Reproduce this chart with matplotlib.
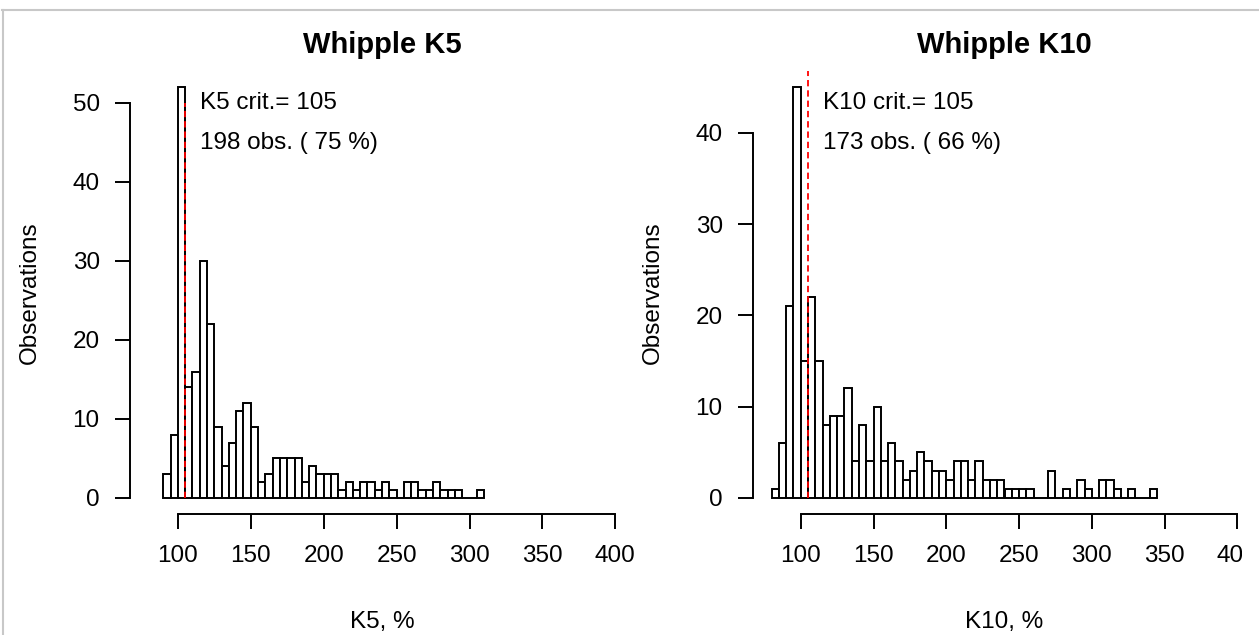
import matplotlib
matplotlib.use('Agg')
import matplotlib.pyplot as plt
from matplotlib.lines import Line2D
from matplotlib.transforms import blended_transform_factory, Bbox, TransformedBbox
import numpy as np

plt.rcParams['font.family'] = ['Liberation Sans', 'DejaVu Sans']

# histogram counts, bins of width 5
bin_w = 5
k5_start = 90
k5_counts = [3, 8, 52, 14, 16, 30, 22, 9, 4, 7, 11, 12, 9, 2, 3, 5, 5, 5, 5, 2,
             4, 3, 3, 3, 1, 2, 1, 2, 2, 1, 2, 1, 0, 2, 2, 1, 1, 2, 1, 1,
             1, 0, 0, 1]
k10_start = 80
k10_counts = [1, 6, 21, 45, 15, 22, 15, 8, 9, 9, 12, 4, 8, 4, 10, 4, 6, 4, 2, 3,
              5, 4, 3, 3, 2, 4, 4, 2, 4, 2, 2, 2, 1, 1, 1, 1, 0, 0, 3, 0,
              1, 0, 2, 1, 0, 2, 2, 1, 0, 1, 0, 0, 1]

crit = 105
titles = ['Whipple K5', 'Whipple K10']
xlabels = ['K5, %', 'K10, %']
crit_texts = ['K5 crit.= 105', 'K10 crit.= 105']
obs_texts = ['198 obs. ( 75 %)', '173 obs. ( 66 %)']
x_ticks = [100, 150, 200, 250, 300, 350, 400]
y_ticks = [[0, 10, 20, 30, 40, 50], [0, 10, 20, 30, 40]]

W, H = 1259, 635
fig = plt.figure(figsize=(W / 100, H / 100), dpi=100)

# plot regions in pixels (left, right, top, bottom)
regions = [(130, 634, 70.7, 514.4), (753, 1256, 70.7, 514.4)]
data = [(k5_start, k5_counts), (k10_start, k10_counts)]

# the screenshot cuts the right panel off a bit before the figure edge
clip = TransformedBbox(Bbox([[0, 0], [1242 / W, 1]]), fig.transFigure)

fs = 17.5
for i in range(2):
    l, r, t, b = regions[i]
    ax = fig.add_axes([l / W, 1 - b / H, (r - l) / W, (b - t) / H])
    start, counts = data[i]
    lefts = start + bin_w * np.arange(len(counts))
    ax.bar(lefts, counts, width=bin_w, align='edge', facecolor='white',
           edgecolor='black', linewidth=1.4)
    ax.plot([crit, crit], [0, 50], color='red', linestyle=(0, (3.5, 2.2)),
            linewidth=1.3)

    ymax = max(counts)
    ax.set_xlim(80 - 0.04 * 320, 400 + 0.04 * 320)
    ax.set_ylim(-0.04 * ymax, ymax * 1.04)

    for s in ['top', 'right']:
        ax.spines[s].set_visible(False)
    ax.spines['bottom'].set_bounds(100, 400)
    ax.spines['left'].set_bounds(0, y_ticks[i][-1])
    ax.spines['bottom'].set_linewidth(1.4)
    ax.spines['left'].set_linewidth(1.4)
    ax.set_xticks(x_ticks)
    ax.set_yticks(y_ticks[i])
    ax.tick_params(length=10.8, width=1.4, labelsize=fs, pad=11)
    for lab in ax.get_xticklabels():
        lab.set_clip_on(True)
        lab.set_clip_box(clip)

    ax.text(0.5, 1.058, titles[i], transform=ax.transAxes, ha='center',
            va='center', fontsize=21, fontweight='bold')
    ax.text(0.5, -0.2425, xlabels[i], transform=ax.transAxes, ha='center',
            va='center', fontsize=fs)
    ax.text(-0.199, 0.5, 'Observations', transform=ax.transAxes, ha='center',
            va='center', rotation=90, fontsize=fs)

    tr = blended_transform_factory(ax.transData, ax.transAxes)
    ax.text(115, 0.927, crit_texts[i], transform=tr, ha='left', va='center',
            fontsize=fs)
    ax.text(115, 0.837, obs_texts[i], transform=tr, ha='left', va='center',
            fontsize=fs)

# screenshot frame
fig.add_artist(Line2D([2 / W, 1], [1 - 9.5 / H, 1 - 9.5 / H], color='#c8c8c8',
                      linewidth=1.5, transform=fig.transFigure))
fig.add_artist(Line2D([2.5 / W, 2.5 / W], [0, 1 - 9.5 / H], color='#c8c8c8',
                      linewidth=1.5, transform=fig.transFigure))

fig.savefig('out.png', dpi=100)
